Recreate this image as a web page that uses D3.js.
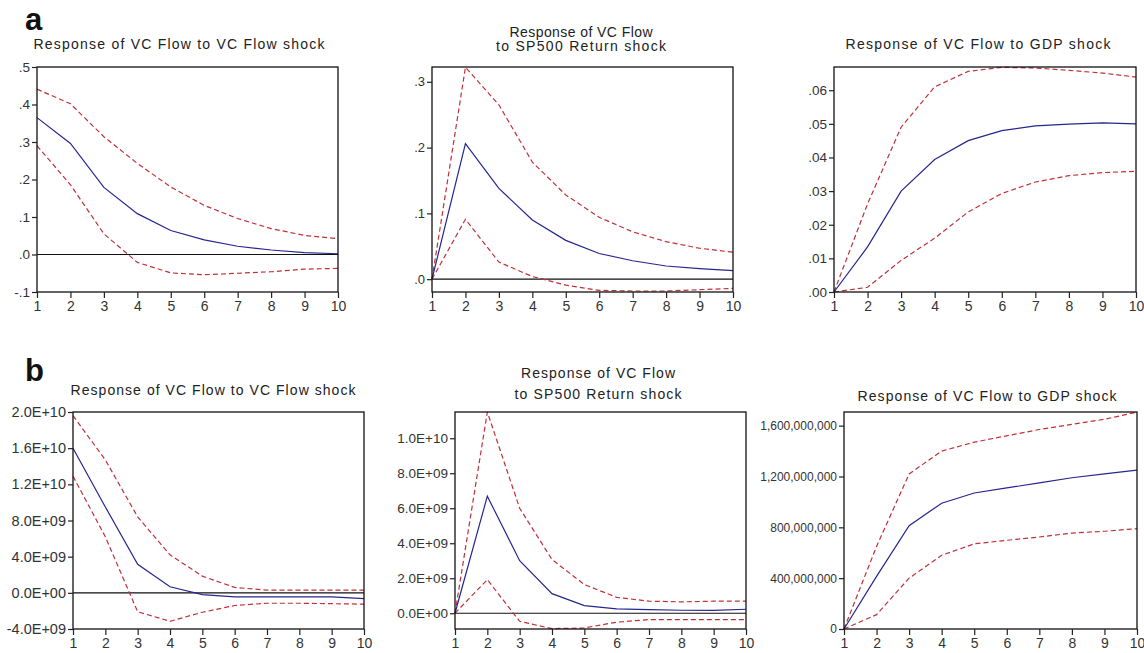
<!DOCTYPE html>
<html>
<head>
<meta charset="utf-8">
<script src="https://cdn.jsdelivr.net/npm/d3@7"></script>
<style>
  body { margin: 0; background: #fff; }
  svg { display: block; font-family: "Liberation Sans", Arial, sans-serif; }
  .tick text { fill: #333; }
</style>
</head>
<body>
<div class="container"></div>
<script>
// horizon (periods after the shock)
var periods = [1, 2, 3, 4, 5, 6, 7, 8, 9, 10];

// panel a: response, upper and lower bands
var a1Resp  = [0.365, 0.296, 0.179, 0.109, 0.064, 0.039, 0.022, 0.012, 0.005, 0.002];
var a1Upper = [0.441, 0.402, 0.314, 0.243, 0.180, 0.131, 0.096, 0.069, 0.051, 0.042];
var a1Lower = [0.290, 0.186, 0.055, -0.021, -0.049, -0.054, -0.050, -0.046, -0.039, -0.037];

var a2Resp  = [0, 0.206, 0.138, 0.090, 0.059, 0.039, 0.028, 0.020, 0.016, 0.013];
var a2Upper = [0, 0.322, 0.265, 0.178, 0.128, 0.094, 0.072, 0.057, 0.047, 0.041];
var a2Lower = [0, 0.091, 0.026, 0.004, -0.009, -0.017, -0.018, -0.018, -0.016, -0.014];

var a3Resp  = [0, 0.0134, 0.0300, 0.0394, 0.0450, 0.0480, 0.0494, 0.0499, 0.0503, 0.0500];
var a3Upper = [0, 0.0262, 0.0490, 0.0610, 0.0656, 0.0668, 0.0666, 0.0659, 0.0651, 0.0639];
var a3Lower = [0, 0.0014, 0.0094, 0.0160, 0.0238, 0.0293, 0.0327, 0.0346, 0.0355, 0.0359];

// panel b
var b1Resp  = [1.60e10, 9.5e9, 3.15e9, 0.67e9, -0.19e9, -0.44e9, -0.44e9, -0.44e9, -0.44e9, -0.63e9];
var b1Upper = [1.96e10, 1.47e10, 8.4e9, 4.2e9, 1.85e9, 0.6e9, 0.3e9, 0.3e9, 0.3e9, 0.3e9];
var b1Lower = [1.29e10, 6.2e9, -2.1e9, -3.15e9, -2.15e9, -1.4e9, -1.15e9, -1.15e9, -1.2e9, -1.25e9];

var b2Resp  = [0, 6.69e9, 3.0e9, 1.12e9, 0.44e9, 0.25e9, 0.21e9, 0.17e9, 0.17e9, 0.23e9];
var b2Upper = [0, 1.15e10, 6.0e9, 3.07e9, 1.64e9, 0.91e9, 0.69e9, 0.65e9, 0.69e9, 0.69e9];
var b2Lower = [0, 1.92e9, -0.46e9, -0.88e9, -0.84e9, -0.51e9, -0.36e9, -0.36e9, -0.36e9, -0.36e9];

var b3Resp  = [0, 4.14e8, 8.13e8, 9.9e8, 1.07e9, 1.11e9, 1.15e9, 1.19e9, 1.22e9, 1.25e9];
var b3Upper = [0, 6.5e8, 1.22e9, 1.40e9, 1.47e9, 1.52e9, 1.57e9, 1.61e9, 1.65e9, 1.707e9];
var b3Lower = [0, 1.13e8, 4.0e8, 5.8e8, 6.7e8, 6.98e8, 7.24e8, 7.55e8, 7.69e8, 7.9e8];

// y axis ticks and their labels
var a1Ticks = [-0.1, 0, 0.1, 0.2, 0.3, 0.4, 0.5];
var a1Labels = ["-.1", ".0", ".1", ".2", ".3", ".4", ".5"];
var a2Ticks = [0, 0.1, 0.2, 0.3];
var a2Labels = [".0", ".1", ".2", ".3"];
var a3Ticks = [0, 0.01, 0.02, 0.03, 0.04, 0.05, 0.06];
var a3Labels = [".00", ".01", ".02", ".03", ".04", ".05", ".06"];
var b1Ticks = [-4e9, 0, 4e9, 8e9, 1.2e10, 1.6e10, 2e10];
var b1Labels = ["-4.0E+09", "0.0E+00", "4.0E+09", "8.0E+09", "1.2E+10", "1.6E+10", "2.0E+10"];
var b2Ticks = [0, 2e9, 4e9, 6e9, 8e9, 1e10];
var b2Labels = ["0.0E+00", "2.0E+09", "4.0E+09", "6.0E+09", "8.0E+09", "1.0E+10"];
var b3Ticks = [0, 4e8, 8e8, 1.2e9, 1.6e9];
var b3Labels = ["0", "400,000,000", "800,000,000", "1,200,000,000", "1,600,000,000"];

// value ranges shown on each y axis
var a1Range = [-0.1, 0.5];
var a2Range = [-0.0195, 0.3225];
var a3Range = [0, 0.0669];
var b1Range = [-4e9, 2e10];
var b2Range = [-0.9e9, 1.15e10];
var b3Range = [0, 1.7075e9];

var titleOwn = ["Response of VC Flow to VC Flow shock"];
var titleSP = ["Response of VC Flow", "to SP500 Return shock"];
var titleGDP = ["Response of VC Flow to GDP shock"];

var width = 1144, height = 653;

var panels = [
  { resp: a1Resp, up: a1Upper, lo: a1Lower, ticks: a1Ticks, labels: a1Labels, range: a1Range, title: titleOwn,
    box: [37, 67, 338, 292], font: 13.5, titleY: [49], titleW: [291], titleX: 179 },
  { resp: a2Resp, up: a2Upper, lo: a2Lower, ticks: a2Ticks, labels: a2Labels, range: a2Range, title: titleSP,
    box: [432, 67, 733, 292], font: 13, titleY: [37, 51], titleW: [143, 170], titleX: 581 },
  { resp: a3Resp, up: a3Upper, lo: a3Lower, ticks: a3Ticks, labels: a3Labels, range: a3Range, title: titleGDP,
    box: [834, 67, 1136, 292], font: 13.5, titleY: [49], titleW: [265], titleX: 978 },
  { resp: b1Resp, up: b1Upper, lo: b1Lower, ticks: b1Ticks, labels: b1Labels, range: b1Range, title: titleOwn,
    box: [73, 412, 364, 629], font: 14.5, titleY: [395], titleW: [285], titleX: 213 },
  { resp: b2Resp, up: b2Upper, lo: b2Lower, ticks: b2Ticks, labels: b2Labels, range: b2Range, title: titleSP,
    box: [455, 412, 746, 629], font: 13.5, titleY: [378, 399], titleW: [154, 167], titleX: 598 },
  { resp: b3Resp, up: b3Upper, lo: b3Lower, ticks: b3Ticks, labels: b3Labels, range: b3Range, title: titleGDP,
    box: [844, 412, 1137, 629], font: 12, titleY: [401], titleW: [259], titleX: 987 }
];

var svg = d3.select(".container").append("svg")
  .attr("width", width)
  .attr("height", height);

svg.append("rect").attr("width", width).attr("height", height).attr("fill", "#fff");

// panel letters
svg.append("text").attr("x", 25).attr("y", 30).attr("font-size", 31).attr("font-weight", "bold").attr("fill", "#111").text("a");
svg.append("text").attr("x", 25).attr("y", 381).attr("font-size", 31).attr("font-weight", "bold").attr("fill", "#111").text("b");

panels.forEach(function (p) {
  var x0 = p.box[0], y0 = p.box[1], x1 = p.box[2], y1 = p.box[3];

  var x = d3.scaleLinear().domain([1, 10]).range([x0, x1]);
  var y = d3.scaleLinear().domain(p.range).range([y1, y0]);

  var g = svg.append("g");

  // title lines
  p.title.forEach(function (t, i) {
    g.append("text")
      .attr("x", p.titleX)
      .attr("y", p.titleY[i])
      .attr("text-anchor", "middle")
      .attr("font-size", 14)
      .attr("fill", "#222")
      .attr("textLength", p.titleW[i])
      .attr("lengthAdjust", "spacing")
      .text(t);
  });

  // zero line
  if (p.range[0] < 0) {
    g.append("line")
      .attr("x1", x0).attr("x2", x1)
      .attr("y1", y(0)).attr("y2", y(0))
      .attr("stroke", "#111").attr("stroke-width", 1.2);
  }

  var line = d3.line()
    .x(function (d, i) { return x(periods[i]); })
    .y(function (d) { return y(d); });

  [p.up, p.lo].forEach(function (band) {
    g.append("path")
      .datum(band)
      .attr("d", line)
      .attr("fill", "none")
      .attr("stroke", "#c0313a")
      .attr("stroke-width", 1.2)
      .attr("stroke-dasharray", "5,3");
  });

  g.append("path")
    .datum(p.resp)
    .attr("d", line)
    .attr("fill", "none")
    .attr("stroke", "#26268f")
    .attr("stroke-width", 1.2);

  // frame
  g.append("rect")
    .attr("x", x0).attr("y", y0)
    .attr("width", x1 - x0).attr("height", y1 - y0)
    .attr("fill", "none")
    .attr("stroke", "#111")
    .attr("stroke-width", 1.3);

  var yAxis = d3.axisLeft(y)
    .tickValues(p.ticks)
    .tickFormat(function (d, i) { return p.labels[i]; })
    .tickSize(5)
    .tickPadding(2)
    .tickSizeOuter(0);

  var xAxis = d3.axisBottom(x)
    .tickValues(periods)
    .tickFormat(d3.format("d"))
    .tickSize(6)
    .tickPadding(3)
    .tickSizeOuter(0);

  g.append("g")
    .attr("transform", "translate(" + x0 + ",0)")
    .call(yAxis)
    .call(function (a) { a.select(".domain").remove(); })
    .selectAll("text").attr("font-size", p.font).attr("font-family", null);

  g.append("g")
    .attr("transform", "translate(0," + y1 + ")")
    .call(xAxis)
    .call(function (a) { a.select(".domain").remove(); })
    .selectAll("text").attr("font-size", 14).attr("font-family", null);

  g.selectAll(".tick line").attr("stroke", "#222").attr("stroke-width", 1.2);
});
</script>
</body>
</html>
